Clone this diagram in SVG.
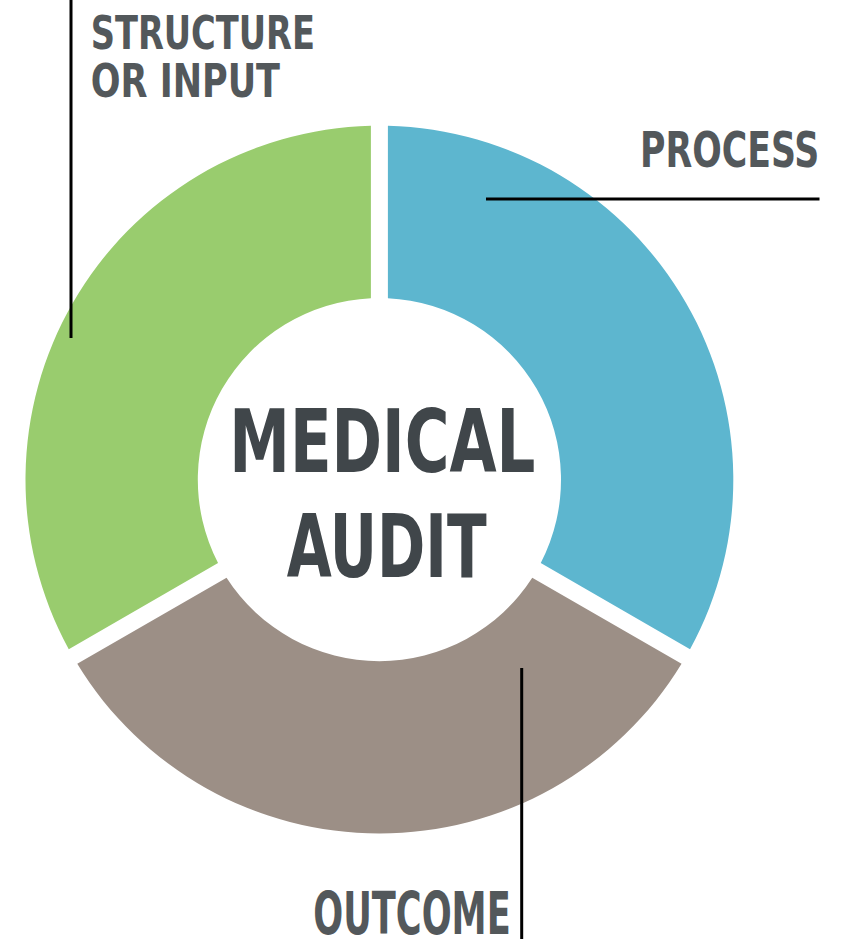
<svg xmlns="http://www.w3.org/2000/svg" width="858" height="939" viewBox="0 0 858 939">
<style>
.t{font-family:"Liberation Sans Narrow","DejaVu Sans Condensed","Liberation Sans",sans-serif;font-weight:bold;}
.lbl{fill:#53585b;}
.ttl{fill:#40464a;}
.ln{stroke:#000;stroke-width:3;fill:none;}
</style>
<rect width="858" height="939" fill="#fff"/>
<g id="process">
<path d="M 387.9 125.8 A 353.9 353.9 0 0 1 690.05 649.14 L 540.75 562.94 A 181.6 181.6 0 0 0 387.9 298.2 Z" fill="#5db6cf"/>
</g>
<g id="structure">
<path d="M 370.9 125.8 A 353.9 353.9 0 0 0 68.75 649.14 L 218.05 562.94 A 181.6 181.6 0 0 1 370.9 298.2 Z" fill="#99cc6e"/>
</g>
<g id="outcome">
<path d="M 681.55 663.86 A 353.9 353.9 0 0 1 77.25 663.86 L 226.55 577.66 A 181.6 181.6 0 0 0 532.25 577.66 Z" fill="#9c8f86"/>
</g>
<g id="center">
<text class="t ttl" x="229.3" y="471.7" font-size="87" textLength="306" lengthAdjust="spacingAndGlyphs">MEDICAL</text>
<text class="t ttl" x="286.7" y="576.7" font-size="87" textLength="200" lengthAdjust="spacingAndGlyphs">AUDIT</text>
</g>
<g id="connectors">
<line class="ln" x1="71" y1="0" x2="71" y2="338"/>
<line class="ln" x1="486" y1="199" x2="819.5" y2="199"/>
<line class="ln" x1="521.7" y1="668" x2="521.7" y2="939"/>
</g>
<g id="labels">
<text class="t lbl" x="90.7" y="49.3" font-size="46" textLength="224.3" lengthAdjust="spacingAndGlyphs">STRUCTURE</text>
<text class="t lbl" x="90.7" y="96.7" font-size="46" textLength="189.3" lengthAdjust="spacingAndGlyphs">OR INPUT</text>
<text class="t lbl" x="640" y="167.3" font-size="49" textLength="179.3" lengthAdjust="spacingAndGlyphs">PROCESS</text>
<text class="t lbl" x="313.3" y="934.3" font-size="58" textLength="197.4" lengthAdjust="spacingAndGlyphs">OUTCOME</text>
</g>
</svg>
